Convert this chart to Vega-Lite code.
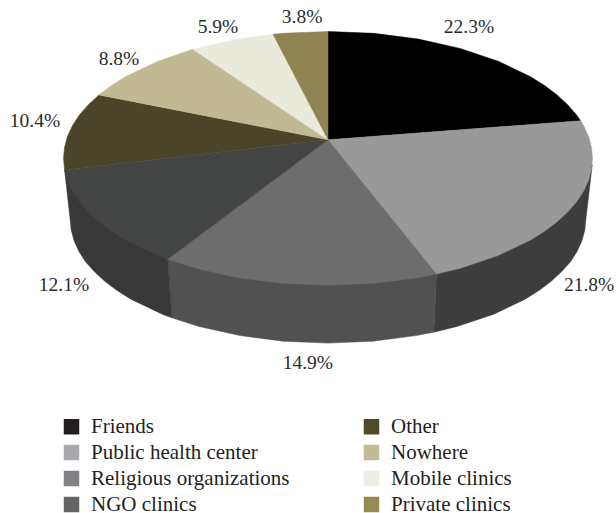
{"$schema":"https://vega.github.io/schema/vega-lite/v6.json","width":616,"height":513,"padding":0,"autosize":{"type":"none"},"background":"white","config":{"view":{"stroke":null},"font":"Liberation Serif"},
"datasets":{"shares":[
{"name":"Friends","share":0.223,"lx":0.533,"ly":1.032},
{"name":"Public health center","share":0.218,"lx":0.987,"ly":-0.996},
{"name":"Religious organizations","share":0.149,"lx":-0.076,"ly":-1.61},
{"name":"NGO clinics","share":0.121,"lx":-0.998,"ly":-0.996},
{"name":"Other","share":0.104,"lx":-1.108,"ly":0.295},
{"name":"Nowhere","share":0.088,"lx":-0.79,"ly":0.783},
{"name":"Mobile clinics","share":0.059,"lx":-0.416,"ly":1.035},
{"name":"Private clinics","share":0.038,"lx":-0.098,"ly":1.114}],
"shape":[
{"p":"wall PHC","i":0,"x":0.999,"y":-0.052},{"p":"wall PHC","i":1,"x":0.975,"y":-0.48},{"p":"wall PHC","i":2,"x":0.971,"y":-0.565},{"p":"wall PHC","i":3,"x":0.96,"y":-0.65},{"p":"wall PHC","i":4,"x":0.942,"y":-0.733},{"p":"wall PHC","i":5,"x":0.917,"y":-0.814},{"p":"wall PHC","i":6,"x":0.883,"y":-0.893},{"p":"wall PHC","i":7,"x":0.844,"y":-0.968},{"p":"wall PHC","i":8,"x":0.799,"y":-1.04},{"p":"wall PHC","i":9,"x":0.747,"y":-1.108},{"p":"wall PHC","i":10,"x":0.627,"y":-1.228},{"p":"wall PHC","i":11,"x":0.488,"y":-1.325},{"p":"wall PHC","i":12,"x":0.4,"y":-1.37},{"p":"wall PHC","i":13,"x":0.41,"y":-0.912},{"p":"wall PHC","i":14,"x":0.999,"y":-0.052},
{"p":"wall Rel","i":0,"x":0.41,"y":-0.912},{"p":"wall Rel","i":1,"x":0.4,"y":-1.37},{"p":"wall Rel","i":2,"x":0.333,"y":-1.397},{"p":"wall Rel","i":3,"x":0.17,"y":-1.441},{"p":"wall Rel","i":4,"x":0,"y":-1.456},{"p":"wall Rel","i":5,"x":-0.17,"y":-1.441},{"p":"wall Rel","i":6,"x":-0.333,"y":-1.397},{"p":"wall Rel","i":7,"x":-0.488,"y":-1.325},{"p":"wall Rel","i":8,"x":-0.591,"y":-1.256},{"p":"wall Rel","i":9,"x":-0.606,"y":-0.795},{"p":"wall Rel","i":10,"x":0.41,"y":-0.912},
{"p":"wall NGO","i":0,"x":-0.606,"y":-0.795},{"p":"wall NGO","i":1,"x":-0.591,"y":-1.256},{"p":"wall NGO","i":2,"x":-0.627,"y":-1.228},{"p":"wall NGO","i":3,"x":-0.747,"y":-1.108},{"p":"wall NGO","i":4,"x":-0.799,"y":-1.04},{"p":"wall NGO","i":5,"x":-0.844,"y":-0.968},{"p":"wall NGO","i":6,"x":-0.883,"y":-0.893},{"p":"wall NGO","i":7,"x":-0.917,"y":-0.814},{"p":"wall NGO","i":8,"x":-0.942,"y":-0.733},{"p":"wall NGO","i":9,"x":-0.96,"y":-0.65},{"p":"wall NGO","i":10,"x":-0.971,"y":-0.565},{"p":"wall NGO","i":11,"x":-0.975,"y":-0.48},{"p":"wall NGO","i":12,"x":-0.996,"y":-0.091},{"p":"wall NGO","i":13,"x":-0.606,"y":-0.795},
{"p":"Friends","i":0,"x":0,"y":0.146},{"p":"Friends","i":1,"x":0,"y":1},{"p":"Friends","i":2,"x":0.174,"y":0.985},{"p":"Friends","i":3,"x":0.342,"y":0.94},{"p":"Friends","i":4,"x":0.5,"y":0.866},{"p":"Friends","i":5,"x":0.643,"y":0.766},{"p":"Friends","i":6,"x":0.766,"y":0.643},{"p":"Friends","i":7,"x":0.819,"y":0.574},{"p":"Friends","i":8,"x":0.866,"y":0.5},{"p":"Friends","i":9,"x":0.906,"y":0.423},{"p":"Friends","i":10,"x":0.94,"y":0.342},{"p":"Friends","i":11,"x":0.955,"y":0.296},{"p":"Friends","i":12,"x":0,"y":0.146},
{"p":"Public health center","i":0,"x":0,"y":0.146},{"p":"Public health center","i":1,"x":0.955,"y":0.296},{"p":"Public health center","i":2,"x":0.966,"y":0.259},{"p":"Public health center","i":3,"x":0.985,"y":0.174},{"p":"Public health center","i":4,"x":0.996,"y":0.087},{"p":"Public health center","i":5,"x":1,"y":0},{"p":"Public health center","i":6,"x":0.996,"y":-0.087},{"p":"Public health center","i":7,"x":0.985,"y":-0.174},{"p":"Public health center","i":8,"x":0.966,"y":-0.259},{"p":"Public health center","i":9,"x":0.94,"y":-0.342},{"p":"Public health center","i":10,"x":0.906,"y":-0.423},{"p":"Public health center","i":11,"x":0.866,"y":-0.5},{"p":"Public health center","i":12,"x":0.819,"y":-0.574},{"p":"Public health center","i":13,"x":0.766,"y":-0.643},{"p":"Public health center","i":14,"x":0.643,"y":-0.766},{"p":"Public health center","i":15,"x":0.5,"y":-0.866},{"p":"Public health center","i":16,"x":0.41,"y":-0.912},{"p":"Public health center","i":17,"x":0,"y":0.146},
{"p":"Religious organizations","i":0,"x":0,"y":0.146},{"p":"Religious organizations","i":1,"x":0.41,"y":-0.912},{"p":"Religious organizations","i":2,"x":0.342,"y":-0.94},{"p":"Religious organizations","i":3,"x":0.174,"y":-0.985},{"p":"Religious organizations","i":4,"x":0,"y":-1},{"p":"Religious organizations","i":5,"x":-0.174,"y":-0.985},{"p":"Religious organizations","i":6,"x":-0.342,"y":-0.94},{"p":"Religious organizations","i":7,"x":-0.5,"y":-0.866},{"p":"Religious organizations","i":8,"x":-0.606,"y":-0.795},{"p":"Religious organizations","i":9,"x":0,"y":0.146},
{"p":"NGO clinics","i":0,"x":0,"y":0.146},{"p":"NGO clinics","i":1,"x":-0.606,"y":-0.795},{"p":"NGO clinics","i":2,"x":-0.643,"y":-0.766},{"p":"NGO clinics","i":3,"x":-0.766,"y":-0.643},{"p":"NGO clinics","i":4,"x":-0.819,"y":-0.574},{"p":"NGO clinics","i":5,"x":-0.866,"y":-0.5},{"p":"NGO clinics","i":6,"x":-0.906,"y":-0.423},{"p":"NGO clinics","i":7,"x":-0.94,"y":-0.342},{"p":"NGO clinics","i":8,"x":-0.966,"y":-0.259},{"p":"NGO clinics","i":9,"x":-0.985,"y":-0.174},{"p":"NGO clinics","i":10,"x":-0.996,"y":-0.091},{"p":"NGO clinics","i":11,"x":0,"y":0.146},
{"p":"Other","i":0,"x":0,"y":0.146},{"p":"Other","i":1,"x":-0.996,"y":-0.091},{"p":"Other","i":2,"x":-1,"y":0},{"p":"Other","i":3,"x":-0.996,"y":0.087},{"p":"Other","i":4,"x":-0.985,"y":0.174},{"p":"Other","i":5,"x":-0.966,"y":0.259},{"p":"Other","i":6,"x":-0.94,"y":0.342},{"p":"Other","i":7,"x":-0.906,"y":0.423},{"p":"Other","i":8,"x":-0.866,"y":0.5},{"p":"Other","i":9,"x":0,"y":0.146},
{"p":"Nowhere","i":0,"x":0,"y":0.146},{"p":"Nowhere","i":1,"x":-0.866,"y":0.5},{"p":"Nowhere","i":2,"x":-0.819,"y":0.574},{"p":"Nowhere","i":3,"x":-0.766,"y":0.643},{"p":"Nowhere","i":4,"x":-0.643,"y":0.766},{"p":"Nowhere","i":5,"x":-0.511,"y":0.86},{"p":"Nowhere","i":6,"x":0,"y":0.146},
{"p":"Mobile clinics","i":0,"x":0,"y":0.146},{"p":"Mobile clinics","i":1,"x":-0.511,"y":0.86},{"p":"Mobile clinics","i":2,"x":-0.342,"y":0.94},{"p":"Mobile clinics","i":3,"x":-0.208,"y":0.978},{"p":"Mobile clinics","i":4,"x":0,"y":0.146},
{"p":"Private clinics","i":0,"x":0,"y":0.146},{"p":"Private clinics","i":1,"x":-0.208,"y":0.978},{"p":"Private clinics","i":2,"x":-0.174,"y":0.985},{"p":"Private clinics","i":3,"x":0,"y":1},{"p":"Private clinics","i":4,"x":0,"y":0.146}
]},
"layer":[
{"data":{"name":"shape"},"mark":{"type":"line","strokeWidth":0.5},
"encoding":{
"x":{"field":"x","type":"quantitative","axis":null,"scale":{"domain":[-1.2401,1.0888],"nice":false,"zero":false}},
"y":{"field":"y","type":"quantitative","axis":null,"scale":{"domain":[-2.795,1.248],"nice":false,"zero":false}},
"order":{"field":"i"},
"fill":{"field":"p","type":"nominal","legend":null,"scale":{"domain":["wall PHC","wall Rel","wall NGO","Friends","Public health center","Religious organizations","NGO clinics","Other","Nowhere","Mobile clinics","Private clinics"],"range":["#3d3d3d","#515151","#393939","#000000","#999999","#6d6d6d","#434545","#4a4429","#c0b993","#e9e9dc","#8f8451"]}},
"stroke":{"field":"p","type":"nominal","legend":null,"scale":{"domain":["wall PHC","wall Rel","wall NGO","Friends","Public health center","Religious organizations","NGO clinics","Other","Nowhere","Mobile clinics","Private clinics"],"range":["#3d3d3d","#515151","#393939","#000000","#999999","#6d6d6d","#434545","#4a4429","#c0b993","#e9e9dc","#8f8451"]}}
}},
{"data":{"name":"shares"},"mark":{"type":"point","filled":true,"shape":"square","opacity":0},
"encoding":{
"x":{"field":"lx","type":"quantitative"},
"y":{"field":"ly","type":"quantitative"},
"color":{"field":"name","type":"nominal","sort":null,
"scale":{"domain":["Friends","Public health center","Religious organizations","NGO clinics","Other","Nowhere","Mobile clinics","Private clinics"],"range":["#231f20","#a7a9ac","#808285","#636466","#4f4a2b","#c2bb94","#eeeee2","#948a54"]},
"legend":{"title":null,"orient":"none","legendX":61,"legendY":416,"columns":2,"columnPadding":71,"rowPadding":4,"symbolType":"square","symbolSize":240,"symbolOpacity":1,"symbolStrokeWidth":0,"labelFont":"Liberation Serif","labelFontSize":21,"labelColor":"#231f20","labelOffset":9,"labelLimit":300}}
}},
{"data":{"name":"shares"},"mark":{"type":"text","font":"Liberation Serif","fontSize":19.5,"color":"#2b2b2b","align":"center","baseline":"middle"},
"encoding":{
"x":{"field":"lx","type":"quantitative"},
"y":{"field":"ly","type":"quantitative"},
"text":{"field":"share","type":"quantitative","format":".1%"}
}}
]}
